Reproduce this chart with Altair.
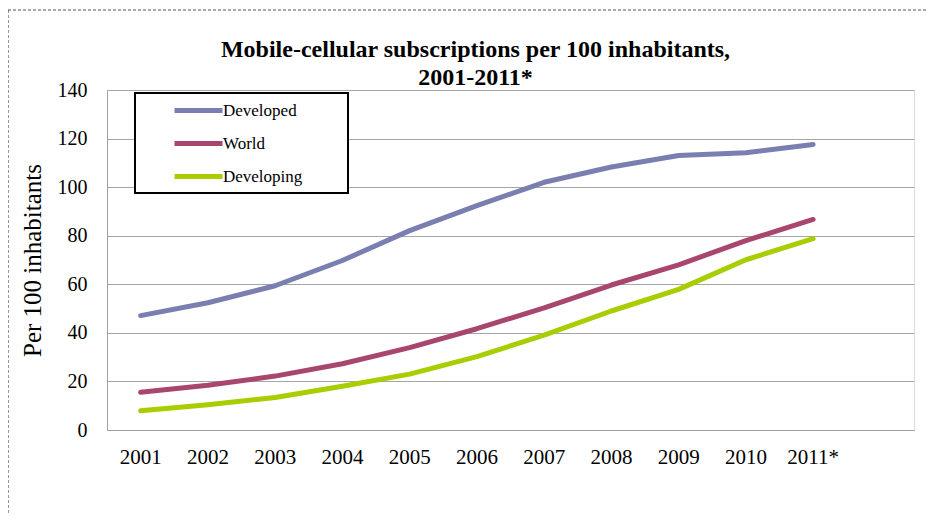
import altair as alt
import pandas as pd

years = ["2001", "2002", "2003", "2004", "2005", "2006", "2007", "2008", "2009", "2010", "2011*"]
developed = [47.1, 52.4, 59.4, 69.8, 82.1, 92.4, 102.0, 108.3, 113.0, 114.2, 117.6]
world = [15.5, 18.4, 22.2, 27.3, 33.9, 41.7, 50.3, 59.7, 68.0, 78.0, 86.7]
developing = [7.9, 10.4, 13.4, 18.0, 23.0, 30.2, 39.1, 49.0, 57.9, 70.1, 78.8]
series = ["Developed", "World", "Developing"]
colors = ["#7a7eb0", "#a9466f", "#a8cd00"]
y_ticks = [0, 20, 40, 60, 80, 100, 120, 140]

rows = []
for s, vals in zip(series, [developed, world, developing]):
    for yr, v in zip(years, vals):
        rows.append({"year": yr, "series": s, "value": v})
df = pd.DataFrame(rows)

x_domain = years + [" "]
SERIF = "Liberation Serif"

lines = alt.Chart(df).mark_line(strokeWidth=5, strokeCap="round", strokeJoin="round").encode(
    x=alt.X(
        "year:O",
        scale=alt.Scale(type="band", domain=x_domain, paddingInner=0, paddingOuter=0),
        bandPosition=0.5,
        axis=alt.Axis(title=None, labelAngle=0, grid=False, ticks=False, tickSize=0,
                      labelPadding=16, labelFont=SERIF, labelFontSize=21, labelColor="black",
                      domainColor="#a0a0a0"),
    ),
    y=alt.Y(
        "value:Q",
        scale=alt.Scale(domain=[0, 140], nice=False),
        axis=alt.Axis(values=y_ticks, title="Per 100 inhabitants", ticks=False, tickSize=0,
                      labelPadding=20, labelFont=SERIF, labelFontSize=20, labelColor="black",
                      titleFont=SERIF, titleFontSize=25, titleFontWeight="normal",
                      titleColor="black", titlePadding=12,
                      gridColor="#a6a6a6", domainColor="#a0a0a0"),
    ),
    color=alt.Color(
        "series:N",
        sort=series,
        scale=alt.Scale(domain=series, range=colors),
        legend=alt.Legend(
            title=None, orient="none", legendX=65, legendY=10, padding=0,
            symbolType="M-1,0H5", symbolSize=256, symbolStrokeWidth=5,
            labelOffset=30, rowPadding=12, labelFont=SERIF, labelFontSize=17,
            labelColor="black", strokeColor="transparent",
        ),
    ),
)

one = pd.DataFrame({"k": [0]})

legend_box = alt.Chart(one).mark_rect(fill="white", stroke="black", strokeWidth=2).encode(
    x=alt.value(28), x2=alt.value(241), y=alt.value(3), y2=alt.value(103)
)

border_top = alt.Chart(one).mark_rule(color="#555555", strokeWidth=1.2, strokeDash=[3, 2]).encode(
    x=alt.value(-99), x2=alt.value(830), y=alt.value(-80)
)
border_left = alt.Chart(one).mark_rule(color="#555555", strokeWidth=1.2, strokeDash=[3, 2]).encode(
    x=alt.value(-99), y=alt.value(-80), y2=alt.value(440)
)

chart = alt.layer(border_top, border_left, legend_box, lines).properties(
    width=807,
    height=340,
    autosize=alt.AutoSizeParams(type="none"),
    padding={"left": 99, "top": 82, "right": 14, "bottom": 83},
    title=alt.TitleParams(
        ["Mobile-cellular subscriptions per 100 inhabitants,", "2001-2011*"],
        font=SERIF, fontSize=24, fontWeight="bold", color="black",
        anchor="middle", frame="group", dx=-35, offset=-81, lineHeight=28,
    ),
).configure_view(stroke=None).configure(background="white")

chart.save("out.html", embed_options={"renderer": "svg", "actions": False})
